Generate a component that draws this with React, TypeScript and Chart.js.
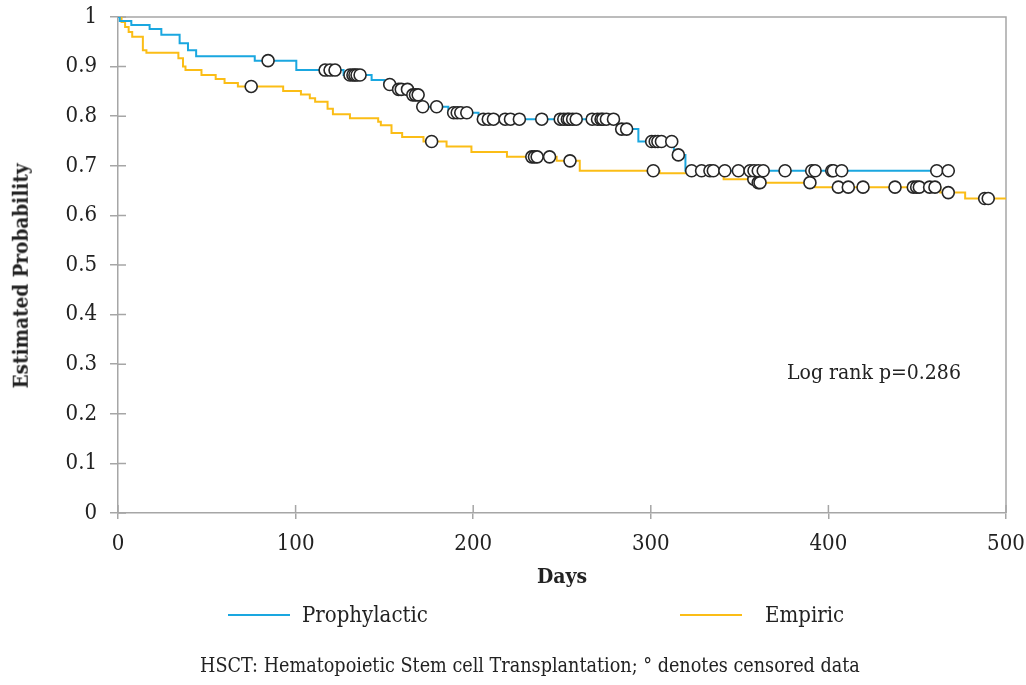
import React, { useEffect, useRef } from "react";
import { Chart, registerables } from "chart.js";

Chart.register(...registerables);

// ---- data ----
const xTickValues = [0, 100, 200, 300, 400, 500];
const yTickValues = [0, 0.1, 0.2, 0.3, 0.4, 0.5, 0.6, 0.7, 0.8, 0.9, 1];

const seriesNames = ["Prophylactic", "Empiric"];

// Kaplan-Meier steps: time (days) and survival after that time
const prophTimes = [0, 1, 7.5, 17.8, 24.4, 34.7, 39.4, 44, 77, 100.4, 127, 142.8, 150, 156, 165, 170.5, 186, 203, 281, 293, 313, 319.5, 467.5];
const prophSurv = [1, 0.992, 0.984, 0.976, 0.964, 0.947, 0.933, 0.921, 0.912, 0.893, 0.883, 0.873, 0.864, 0.854, 0.843, 0.819, 0.807, 0.794, 0.774, 0.749, 0.722, 0.69, 0.69];

const prophCensorTimes = [84.5, 116.6, 119.4, 122.2, 130.6, 132.3, 133.4, 134.6, 136.3, 153, 158, 159.5, 163, 166, 167.5, 169, 171.6, 179.4, 189, 191, 193, 196.4, 205.7, 208.5, 211.4, 218, 221, 226, 238.6, 249, 251, 253, 254, 256, 258, 267, 270, 272, 273, 275, 279, 283.6, 286.4, 300.5, 302.5, 304, 306, 311.8, 315.5, 323, 328.6, 333.3, 335.2, 341.7, 349.3, 355.9, 358.1, 360.5, 363.3, 375.6, 390.6, 392.5, 401.9, 402.8, 407.5, 461, 467.5];
const prophCensorSurv = [0.912, 0.893, 0.893, 0.893, 0.883, 0.883, 0.883, 0.883, 0.883, 0.864, 0.854, 0.854, 0.854, 0.843, 0.843, 0.843, 0.819, 0.819, 0.807, 0.807, 0.807, 0.807, 0.794, 0.794, 0.794, 0.794, 0.794, 0.794, 0.794, 0.794, 0.794, 0.794, 0.794, 0.794, 0.794, 0.794, 0.794, 0.794, 0.794, 0.794, 0.794, 0.774, 0.774, 0.749, 0.749, 0.749, 0.749, 0.749, 0.722, 0.69, 0.69, 0.69, 0.69, 0.69, 0.69, 0.69, 0.69, 0.69, 0.69, 0.69, 0.69, 0.69, 0.69, 0.69, 0.69, 0.69, 0.69];

const empTimes = [0, 2, 4, 6, 8, 14, 16, 34, 36.6, 38, 47, 55, 60, 67.5, 93, 103, 108, 111, 118, 121, 130.6, 146.5, 148, 154, 160, 172, 185, 199, 219, 247, 260, 305, 341, 359.5, 392.5, 463, 477, 500];
const empSurv = [1, 0.99, 0.98, 0.97, 0.96, 0.933, 0.928, 0.917, 0.9, 0.893, 0.883, 0.875, 0.867, 0.86, 0.851, 0.844, 0.836, 0.829, 0.815, 0.804, 0.796, 0.789, 0.782, 0.766, 0.758, 0.749, 0.739, 0.728, 0.718, 0.71, 0.69, 0.685, 0.673, 0.666, 0.657, 0.646, 0.634, 0.634];

const empCensorTimes = [75, 176.6, 233, 234.5, 236, 243, 254.5, 301.4, 358, 360.5, 361.5, 389.6, 405.6, 411.2, 419.5, 437.5, 447.8, 449.7, 451.2, 457, 460, 467.5, 488, 490];
const empCensorSurv = [0.86, 0.749, 0.718, 0.718, 0.718, 0.718, 0.71, 0.69, 0.673, 0.666, 0.666, 0.666, 0.657, 0.657, 0.657, 0.657, 0.657, 0.657, 0.657, 0.657, 0.657, 0.646, 0.634, 0.634];

const annotationText = "Log rank p=0.286";
const xTitle = "Days";
const yTitle = "Estimated Probability";
const captionText = "HSCT: Hematopoietic Stem cell Transplantation; \u00B0 denotes censored data";

const BLUE = "#1aa7e0";
const GOLD = "#fbbd16";
const AXIS = "#a6a6a6";
const FONT = "'DejaVu Serif Condensed', 'DejaVu Serif', serif";

const toPoints = (xs: number[], ys: number[]) => xs.map((x, i) => ({ x, y: ys[i] }));

const framePlugin = {
  id: "frameAndInnerTicks",
  beforeDatasetsDraw(chart: any) {
    const { ctx, chartArea, scales } = chart;
    ctx.save();
    ctx.strokeStyle = AXIS;
    ctx.lineWidth = 1.5;
    ctx.beginPath();
    ctx.moveTo(chartArea.left, chartArea.top);
    ctx.lineTo(chartArea.right, chartArea.top);
    ctx.lineTo(chartArea.right, chartArea.bottom);
    ctx.stroke();
    // inner tick parts
    ctx.beginPath();
    yTickValues.forEach((v) => {
      const py = scales.y.getPixelForValue(v);
      ctx.moveTo(chartArea.left, py);
      ctx.lineTo(chartArea.left + 8, py);
    });
    xTickValues.forEach((v) => {
      const px = scales.x.getPixelForValue(v);
      ctx.moveTo(px, chartArea.bottom);
      ctx.lineTo(px, chartArea.bottom - 8);
    });
    ctx.stroke();
    ctx.restore();
  },
};

export default function App() {
  const canvasRef = useRef<HTMLCanvasElement | null>(null);

  useEffect(() => {
    const canvas = canvasRef.current;
    if (!canvas) return;
    const chart = new Chart(canvas, {
      type: "line",
      data: {
        datasets: [
          {
            label: seriesNames[0] + " censored",
            data: toPoints(prophCensorTimes, prophCensorSurv),
            showLine: false,
            pointRadius: 6,
            pointBorderWidth: 1.6,
            pointBorderColor: "#262626",
            pointBackgroundColor: "#ffffff",
            order: 1,
          },
          {
            label: seriesNames[1] + " censored",
            data: toPoints(empCensorTimes, empCensorSurv),
            showLine: false,
            pointRadius: 6,
            pointBorderWidth: 1.6,
            pointBorderColor: "#262626",
            pointBackgroundColor: "#ffffff",
            order: 1,
          },
          {
            label: seriesNames[0],
            data: toPoints(prophTimes, prophSurv),
            borderColor: BLUE,
            borderWidth: 2,
            pointRadius: 0,
            stepped: "before",
            fill: false,
            order: 2,
          },
          {
            label: seriesNames[1],
            data: toPoints(empTimes, empSurv),
            borderColor: GOLD,
            borderWidth: 2,
            pointRadius: 0,
            stepped: "before",
            fill: false,
            order: 3,
          },
        ],
      },
      options: {
        responsive: false,
        animation: false,
        events: [],
        layout: { padding: { top: 17, right: 20, left: 0, bottom: 92 } },
        plugins: { legend: { display: false }, tooltip: { enabled: false } },
        scales: {
          x: {
            type: "linear",
            min: 0,
            max: 500,
            afterFit: (s: any) => {
              s.height = 80;
              s.paddingLeft = 0;
              s.paddingRight = 0;
            },
            afterBuildTicks: (s: any) => {
              s.ticks = xTickValues.map((v) => ({ value: v }));
            },
            grid: { drawOnChartArea: false, drawTicks: true, tickLength: 6, color: AXIS, lineWidth: 1.5 },
            border: { color: AXIS, width: 1.5 },
            ticks: { color: "#222", font: { family: FONT, size: 22 }, padding: 12, maxRotation: 0 },
            title: { display: true, text: xTitle, color: "#222", font: { family: FONT, size: 21, weight: "bold" }, padding: { top: 4, bottom: 3 } },
          },
          y: {
            type: "linear",
            min: 0,
            max: 1,
            afterFit: (s: any) => {
              s.width = 118;
              s.paddingTop = 0;
              s.paddingBottom = 0;
            },
            afterBuildTicks: (s: any) => {
              s.ticks = yTickValues.map((v) => ({ value: v }));
            },
            grid: { drawOnChartArea: false, drawTicks: true, tickLength: 8, color: AXIS, lineWidth: 1.5 },
            border: { color: AXIS, width: 1.5 },
            ticks: {
              color: "#222",
              font: { family: FONT, size: 22 },
              padding: 13,
              callback: (v: any) => (v === 0 || v === 1 ? String(v) : Number(v).toFixed(1)),
            },
            title: { display: false },
          },
        },
      },
      plugins: [framePlugin],
    } as any);
    return () => chart.destroy();
  }, []);

  const textStyle: React.CSSProperties = { position: "absolute", fontFamily: FONT, color: "#222", whiteSpace: "nowrap", lineHeight: "1" };

  return (
    <div style={{ position: "fixed", left: 0, top: 0, width: 1026, height: 685, background: "#fff", overflow: "hidden" }}>
      <canvas ref={canvasRef} width={1026} height={685} style={{ position: "absolute", left: 0, top: 0, width: 1026, height: 685 }} />
      <div
        style={{
          ...textStyle,
          left: 21,
          top: 276,
          fontSize: 20.5,
          fontWeight: "bold",
          transform: "translate(-50%, -50%) rotate(-90deg)",
        }}
      >
        {yTitle}
      </div>
      <div style={{ ...textStyle, left: 787, top: 362, fontSize: 21 }}>{annotationText}</div>
      <div style={{ position: "absolute", left: 228, top: 614, width: 62, height: 0, borderTop: `2px solid ${BLUE}` }} />
      <div style={{ ...textStyle, left: 302, top: 604, fontSize: 22 }}>{seriesNames[0]}</div>
      <div style={{ position: "absolute", left: 680, top: 614, width: 62, height: 0, borderTop: `2px solid ${GOLD}` }} />
      <div style={{ ...textStyle, left: 765, top: 604, fontSize: 22 }}>{seriesNames[1]}</div>
      <div style={{ ...textStyle, left: 0, width: 1060, textAlign: "center", top: 656, fontSize: 19.6 }}>{captionText}</div>
    </div>
  );
}
